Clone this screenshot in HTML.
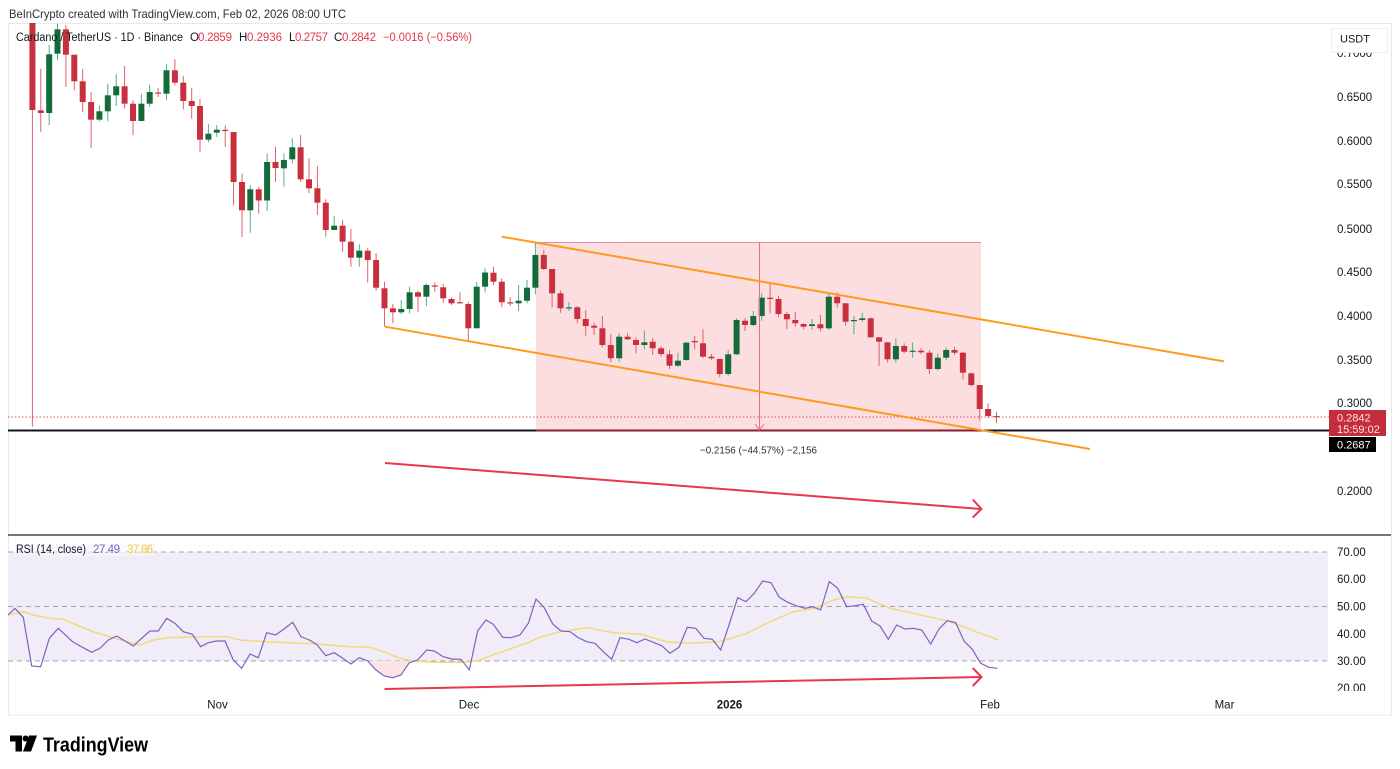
<!DOCTYPE html>
<html><head><meta charset="utf-8"><style>
html,body{margin:0;padding:0;background:#fff;width:1400px;height:769px;overflow:hidden}
svg{display:block;font-family:"Liberation Sans",Arial,sans-serif}
.r{fill:#C9303F}.g{fill:#146B3A}
.rw{stroke:#E0606C;stroke-width:1}.gw{stroke:#4FAF8C;stroke-width:1}
.ax{font-size:11.5px;fill:#131722}
</style></head><body>
<svg width="1400" height="769" viewBox="0 0 1400 769" xmlns="http://www.w3.org/2000/svg">
<defs><clipPath id="mp"><rect x="8" y="23" width="1322" height="512"/></clipPath></defs>
<rect width="1400" height="769" fill="#fff"/>
<text x="9" y="18" font-size="12" fill="#2a2e39" textLength="337" lengthAdjust="spacingAndGlyphs">BeInCrypto created with TradingView.com, Feb 02, 2026 08:00 UTC</text>
<rect x="8.5" y="23.5" width="1383" height="691.5" fill="none" stroke="#E6E8EE" stroke-width="1"/>
<g clip-path="url(#mp)">
<rect x="536" y="242.5" width="445" height="188" fill="#FCDDE0"/>
<line x1="536" y1="242.5" x2="981" y2="242.5" stroke="#F08A96" stroke-width="1"/>
<line x1="32.4" y1="0" x2="32.4" y2="426.7" class="rw"/><rect x="29.4" y="0" width="6" height="110" class="r"/>
<line x1="40.8" y1="68.7" x2="40.8" y2="132" class="rw"/><rect x="37.8" y="110.3" width="6" height="2.7" class="r"/>
<line x1="49.2" y1="45" x2="49.2" y2="125" class="gw"/><rect x="46.2" y="54.3" width="6" height="58.7" class="g"/>
<line x1="57.5" y1="23.7" x2="57.5" y2="60.3" class="gw"/><rect x="54.5" y="29.3" width="6" height="24.4" class="g"/>
<line x1="65.9" y1="25.3" x2="65.9" y2="87" class="rw"/><rect x="62.9" y="29.3" width="6" height="25.4" class="r"/>
<line x1="74.3" y1="54.7" x2="74.3" y2="90.3" class="rw"/><rect x="71.3" y="54.7" width="6" height="26.6" class="r"/>
<line x1="82.7" y1="68.7" x2="82.7" y2="112" class="rw"/><rect x="79.7" y="81.3" width="6" height="20.7" class="r"/>
<line x1="91.1" y1="92" x2="91.1" y2="148" class="rw"/><rect x="88.1" y="102" width="6" height="17.7" class="r"/>
<line x1="99.4" y1="105.3" x2="99.4" y2="121.3" class="gw"/><rect x="96.4" y="111.3" width="6" height="8.4" class="g"/>
<line x1="107.8" y1="83.7" x2="107.8" y2="121.3" class="gw"/><rect x="104.8" y="95.3" width="6" height="16" class="g"/>
<line x1="116.2" y1="74.3" x2="116.2" y2="106" class="gw"/><rect x="113.2" y="86.3" width="6" height="9" class="g"/>
<line x1="124.6" y1="66" x2="124.6" y2="108.7" class="rw"/><rect x="121.6" y="86.3" width="6" height="17.4" class="r"/>
<line x1="133" y1="100.3" x2="133" y2="135.3" class="rw"/><rect x="130" y="103.7" width="6" height="17.3" class="r"/>
<line x1="141.4" y1="94" x2="141.4" y2="121" class="gw"/><rect x="138.4" y="103.7" width="6" height="17.3" class="g"/>
<line x1="149.7" y1="84.7" x2="149.7" y2="107" class="gw"/><rect x="146.7" y="92" width="6" height="11.7" class="g"/>
<line x1="158.1" y1="88" x2="158.1" y2="97" class="rw"/><rect x="155.1" y="92.5" width="6" height="1.2" class="r"/>
<line x1="166.5" y1="63.7" x2="166.5" y2="100.3" class="gw"/><rect x="163.5" y="70.3" width="6" height="23.4" class="g"/>
<line x1="174.9" y1="59.3" x2="174.9" y2="85.3" class="rw"/><rect x="171.9" y="70.3" width="6" height="12.4" class="r"/>
<line x1="183.3" y1="76" x2="183.3" y2="109.3" class="rw"/><rect x="180.3" y="82.7" width="6" height="18.3" class="r"/>
<line x1="191.7" y1="88" x2="191.7" y2="118.7" class="rw"/><rect x="188.7" y="101" width="6" height="5" class="r"/>
<line x1="200" y1="98.7" x2="200" y2="152" class="rw"/><rect x="197" y="106" width="6" height="33.7" class="r"/>
<line x1="208.4" y1="123.7" x2="208.4" y2="142" class="gw"/><rect x="205.4" y="133.7" width="6" height="6" class="g"/>
<line x1="216.8" y1="125" x2="216.8" y2="137" class="gw"/><rect x="213.8" y="129.7" width="6" height="3" class="g"/>
<line x1="225.2" y1="125.3" x2="225.2" y2="147" class="rw"/><rect x="222.2" y="129.8" width="6" height="1.2" class="r"/>
<line x1="233.6" y1="132" x2="233.6" y2="205.3" class="rw"/><rect x="230.6" y="132" width="6" height="50" class="r"/>
<line x1="242" y1="173.5" x2="242" y2="237" class="rw"/><rect x="239" y="182" width="6" height="28.3" class="r"/>
<line x1="250.3" y1="185.3" x2="250.3" y2="232.7" class="gw"/><rect x="247.3" y="189.3" width="6" height="21" class="g"/>
<line x1="258.7" y1="187" x2="258.7" y2="213.7" class="rw"/><rect x="255.7" y="189.3" width="6" height="11.2" class="r"/>
<line x1="267.1" y1="153.5" x2="267.1" y2="211" class="gw"/><rect x="264.1" y="162" width="6" height="38.5" class="g"/>
<line x1="275.5" y1="146.7" x2="275.5" y2="181.7" class="rw"/><rect x="272.5" y="162" width="6" height="6" class="r"/>
<line x1="283.9" y1="153.3" x2="283.9" y2="186.7" class="gw"/><rect x="280.9" y="160" width="6" height="8.3" class="g"/>
<line x1="292.3" y1="138.3" x2="292.3" y2="163.3" class="gw"/><rect x="289.3" y="147.3" width="6" height="12" class="g"/>
<line x1="300.6" y1="135" x2="300.6" y2="181.7" class="rw"/><rect x="297.6" y="147.3" width="6" height="32" class="r"/>
<line x1="309" y1="158.3" x2="309" y2="193.3" class="rw"/><rect x="306" y="179.3" width="6" height="9" class="r"/>
<line x1="317.4" y1="166" x2="317.4" y2="215" class="rw"/><rect x="314.4" y="188.3" width="6" height="14.4" class="r"/>
<line x1="325.8" y1="199.3" x2="325.8" y2="236.7" class="rw"/><rect x="322.8" y="202.7" width="6" height="27.3" class="r"/>
<line x1="334.2" y1="215.7" x2="334.2" y2="230" class="gw"/><rect x="331.2" y="225.7" width="6" height="4.3" class="g"/>
<line x1="342.6" y1="220" x2="342.6" y2="251.7" class="rw"/><rect x="339.6" y="225.7" width="6" height="16" class="r"/>
<line x1="350.9" y1="229" x2="350.9" y2="266.7" class="rw"/><rect x="347.9" y="241.7" width="6" height="16" class="r"/>
<line x1="359.3" y1="244.3" x2="359.3" y2="266.7" class="gw"/><rect x="356.3" y="250.7" width="6" height="7" class="g"/>
<line x1="367.7" y1="248.3" x2="367.7" y2="282.7" class="rw"/><rect x="364.7" y="250.7" width="6" height="9.3" class="r"/>
<line x1="376.1" y1="253.3" x2="376.1" y2="290.7" class="rw"/><rect x="373.1" y="260" width="6" height="27.7" class="r"/>
<line x1="384.5" y1="281.7" x2="384.5" y2="326.7" class="rw"/><rect x="381.5" y="288.3" width="6" height="20" class="r"/>
<line x1="392.9" y1="304" x2="392.9" y2="323.3" class="rw"/><rect x="389.9" y="308.3" width="6" height="4" class="r"/>
<line x1="401.2" y1="300" x2="401.2" y2="314.3" class="gw"/><rect x="398.2" y="309" width="6" height="3.3" class="g"/>
<line x1="409.6" y1="286.7" x2="409.6" y2="313.3" class="gw"/><rect x="406.6" y="292.3" width="6" height="16.7" class="g"/>
<line x1="418" y1="290.7" x2="418" y2="311.7" class="rw"/><rect x="415" y="292.3" width="6" height="4.4" class="r"/>
<line x1="426.4" y1="283.3" x2="426.4" y2="306" class="gw"/><rect x="423.4" y="285" width="6" height="11.7" class="g"/>
<line x1="434.8" y1="282.3" x2="434.8" y2="291.7" class="rw"/><rect x="431.8" y="285.5" width="6" height="1.2" class="r"/>
<line x1="443.2" y1="284" x2="443.2" y2="302.7" class="rw"/><rect x="440.2" y="287.3" width="6" height="11" class="r"/>
<line x1="451.5" y1="297.3" x2="451.5" y2="305" class="rw"/><rect x="448.5" y="299" width="6" height="4.3" class="r"/>
<line x1="459.9" y1="292.3" x2="459.9" y2="303.3" class="rw"/><rect x="456.9" y="302.2" width="6" height="1.2" class="r"/>
<line x1="468.3" y1="301.7" x2="468.3" y2="340.7" class="rw"/><rect x="465.3" y="304" width="6" height="24.3" class="r"/>
<line x1="476.7" y1="282" x2="476.7" y2="328.3" class="gw"/><rect x="473.7" y="286.7" width="6" height="41.6" class="g"/>
<line x1="485.1" y1="268.3" x2="485.1" y2="292.3" class="gw"/><rect x="482.1" y="272.5" width="6" height="14.2" class="g"/>
<line x1="493.5" y1="266.7" x2="493.5" y2="285" class="rw"/><rect x="490.5" y="272.7" width="6" height="9" class="r"/>
<line x1="501.8" y1="278.3" x2="501.8" y2="307.3" class="rw"/><rect x="498.8" y="281.7" width="6" height="20.6" class="r"/>
<line x1="510.2" y1="297.3" x2="510.2" y2="306" class="rw"/><rect x="507.2" y="302.3" width="6" height="1.2" class="r"/>
<line x1="518.6" y1="285" x2="518.6" y2="311" class="gw"/><rect x="515.6" y="300.7" width="6" height="2.6" class="g"/>
<line x1="527" y1="280" x2="527" y2="303.3" class="gw"/><rect x="524" y="287.7" width="6" height="13" class="g"/>
<line x1="535.4" y1="242.7" x2="535.4" y2="294.3" class="gw"/><rect x="532.4" y="255" width="6" height="32.7" class="g"/>
<line x1="543.8" y1="250" x2="543.8" y2="270" class="rw"/><rect x="540.8" y="255" width="6" height="14" class="r"/>
<line x1="552.1" y1="269" x2="552.1" y2="307.3" class="rw"/><rect x="549.1" y="269" width="6" height="24.3" class="r"/>
<line x1="560.5" y1="290.7" x2="560.5" y2="312.7" class="rw"/><rect x="557.5" y="293.3" width="6" height="15" class="r"/>
<line x1="568.9" y1="302.3" x2="568.9" y2="311" class="gw"/><rect x="565.9" y="307.3" width="6" height="1.2" class="g"/>
<line x1="577.3" y1="306" x2="577.3" y2="323.3" class="rw"/><rect x="574.3" y="307.3" width="6" height="11.7" class="r"/>
<line x1="585.7" y1="310" x2="585.7" y2="335.7" class="rw"/><rect x="582.7" y="319" width="6" height="7" class="r"/>
<line x1="594.1" y1="322.7" x2="594.1" y2="335" class="rw"/><rect x="591.1" y="325.7" width="6" height="2" class="r"/>
<line x1="602.4" y1="316" x2="602.4" y2="347.3" class="rw"/><rect x="599.4" y="328.3" width="6" height="16.7" class="r"/>
<line x1="610.8" y1="334" x2="610.8" y2="362.3" class="rw"/><rect x="607.8" y="345" width="6" height="13.3" class="r"/>
<line x1="619.2" y1="333.3" x2="619.2" y2="361.7" class="gw"/><rect x="616.2" y="336.7" width="6" height="21.6" class="g"/>
<line x1="627.6" y1="333.3" x2="627.6" y2="340" class="rw"/><rect x="624.6" y="336.7" width="6" height="2.6" class="r"/>
<line x1="636" y1="337.3" x2="636" y2="353.3" class="rw"/><rect x="633" y="340" width="6" height="5" class="r"/>
<line x1="644.4" y1="330.7" x2="644.4" y2="349.3" class="gw"/><rect x="641.4" y="342.3" width="6" height="2.7" class="g"/>
<line x1="652.7" y1="337.7" x2="652.7" y2="355" class="rw"/><rect x="649.7" y="341.7" width="6" height="6.6" class="r"/>
<line x1="661.1" y1="346" x2="661.1" y2="356.7" class="rw"/><rect x="658.1" y="348.3" width="6" height="5.7" class="r"/>
<line x1="669.5" y1="350" x2="669.5" y2="369" class="rw"/><rect x="666.5" y="354.3" width="6" height="11.4" class="r"/>
<line x1="677.9" y1="352.7" x2="677.9" y2="366.7" class="gw"/><rect x="674.9" y="360.7" width="6" height="5" class="g"/>
<line x1="686.3" y1="341.7" x2="686.3" y2="360.7" class="gw"/><rect x="683.3" y="342.7" width="6" height="17.3" class="g"/>
<line x1="694.7" y1="336" x2="694.7" y2="349.3" class="rw"/><rect x="691.7" y="341" width="6" height="1.3" class="r"/>
<line x1="703" y1="329.3" x2="703" y2="358.3" class="rw"/><rect x="700" y="343.3" width="6" height="13.4" class="r"/>
<line x1="711.4" y1="354" x2="711.4" y2="360" class="rw"/><rect x="708.4" y="356.7" width="6" height="1.6" class="r"/>
<line x1="719.8" y1="358.3" x2="719.8" y2="377.3" class="rw"/><rect x="716.8" y="359" width="6" height="15" class="r"/>
<line x1="728.2" y1="350" x2="728.2" y2="375.7" class="gw"/><rect x="725.2" y="354.3" width="6" height="19.7" class="g"/>
<line x1="736.6" y1="318.3" x2="736.6" y2="355" class="gw"/><rect x="733.6" y="320" width="6" height="34.3" class="g"/>
<line x1="745" y1="318.3" x2="745" y2="331" class="rw"/><rect x="742" y="320.7" width="6" height="4.3" class="r"/>
<line x1="753.3" y1="311" x2="753.3" y2="326" class="gw"/><rect x="750.3" y="316" width="6" height="9" class="g"/>
<line x1="761.7" y1="293.3" x2="761.7" y2="320.7" class="gw"/><rect x="758.7" y="297.7" width="6" height="18.3" class="g"/>
<line x1="770.1" y1="283.3" x2="770.1" y2="313.3" class="rw"/><rect x="767.1" y="297.7" width="6" height="1.3" class="r"/>
<line x1="778.5" y1="296" x2="778.5" y2="317.3" class="rw"/><rect x="775.5" y="299" width="6" height="15" class="r"/>
<line x1="786.9" y1="311.7" x2="786.9" y2="329" class="rw"/><rect x="783.9" y="314" width="6" height="5.3" class="r"/>
<line x1="795.3" y1="311.7" x2="795.3" y2="326.7" class="rw"/><rect x="792.3" y="320" width="6" height="3.3" class="r"/>
<line x1="803.6" y1="323.3" x2="803.6" y2="329.3" class="rw"/><rect x="800.6" y="324" width="6" height="2.7" class="r"/>
<line x1="812" y1="319" x2="812" y2="330" class="gw"/><rect x="809" y="324.3" width="6" height="1.7" class="g"/>
<line x1="820.4" y1="315" x2="820.4" y2="331.7" class="rw"/><rect x="817.4" y="324.3" width="6" height="4" class="r"/>
<line x1="828.8" y1="292.7" x2="828.8" y2="330" class="gw"/><rect x="825.8" y="296.7" width="6" height="31.6" class="g"/>
<line x1="837.2" y1="292.3" x2="837.2" y2="307.3" class="rw"/><rect x="834.2" y="296.7" width="6" height="6.6" class="r"/>
<line x1="845.6" y1="303.3" x2="845.6" y2="325.7" class="rw"/><rect x="842.6" y="303.3" width="6" height="18.4" class="r"/>
<line x1="853.9" y1="316" x2="853.9" y2="334.3" class="gw"/><rect x="850.9" y="320" width="6" height="1.2" class="g"/>
<line x1="862.3" y1="312.7" x2="862.3" y2="321.7" class="gw"/><rect x="859.3" y="318.3" width="6" height="1.7" class="g"/>
<line x1="870.7" y1="317.3" x2="870.7" y2="337.3" class="rw"/><rect x="867.7" y="318.3" width="6" height="19" class="r"/>
<line x1="879.1" y1="337.3" x2="879.1" y2="366" class="rw"/><rect x="876.1" y="337.3" width="6" height="4.4" class="r"/>
<line x1="887.5" y1="342.3" x2="887.5" y2="362.3" class="rw"/><rect x="884.5" y="342.3" width="6" height="17" class="r"/>
<line x1="895.9" y1="338.3" x2="895.9" y2="362.7" class="gw"/><rect x="892.9" y="346" width="6" height="13.3" class="g"/>
<line x1="904.2" y1="343.3" x2="904.2" y2="353.3" class="rw"/><rect x="901.2" y="346" width="6" height="5.7" class="r"/>
<line x1="912.6" y1="342.7" x2="912.6" y2="357.7" class="gw"/><rect x="909.6" y="350.7" width="6" height="1.2" class="g"/>
<line x1="921" y1="348.3" x2="921" y2="354" class="rw"/><rect x="918" y="350.7" width="6" height="1.6" class="r"/>
<line x1="929.4" y1="350" x2="929.4" y2="374" class="rw"/><rect x="926.4" y="352.7" width="6" height="16.3" class="r"/>
<line x1="937.8" y1="353.3" x2="937.8" y2="370.7" class="gw"/><rect x="934.8" y="357.7" width="6" height="11.3" class="g"/>
<line x1="946.2" y1="347.3" x2="946.2" y2="360" class="gw"/><rect x="943.2" y="350" width="6" height="7.7" class="g"/>
<line x1="954.5" y1="346.7" x2="954.5" y2="355" class="rw"/><rect x="951.5" y="350" width="6" height="2.7" class="r"/>
<line x1="962.9" y1="351.7" x2="962.9" y2="379.3" class="rw"/><rect x="959.9" y="352.7" width="6" height="20" class="r"/>
<line x1="971.3" y1="372.7" x2="971.3" y2="386.7" class="rw"/><rect x="968.3" y="373.3" width="6" height="11.7" class="r"/>
<line x1="979.7" y1="385" x2="979.7" y2="420.7" class="rw"/><rect x="976.7" y="385" width="6" height="24" class="r"/>
<line x1="988.1" y1="403.3" x2="988.1" y2="418.3" class="rw"/><rect x="985.1" y="409" width="6" height="7" class="r"/>
<line x1="996.5" y1="411.7" x2="996.5" y2="423.3" class="rw"/><rect x="993.5" y="416" width="6" height="1.2" class="r"/>
<line x1="8" y1="417" x2="1330" y2="417" stroke="#E0505F" stroke-width="1" stroke-dasharray="1.5,2"/>
<line x1="8" y1="430.5" x2="1330" y2="430.5" stroke="#131722" stroke-width="2"/>
<line x1="536" y1="430.5" x2="981" y2="430.5" stroke="#8E1E2C" stroke-width="2"/>
<line x1="759.5" y1="242.5" x2="759.5" y2="430" stroke="#EE6A7C" stroke-width="1"/>
<polyline points="755,424 759.5,430 764,424" fill="none" stroke="#EE6A7C" stroke-width="1"/>
<line x1="501.7" y1="236.7" x2="1224" y2="361.4" stroke="#FF9A1F" stroke-width="2"/>
<line x1="385" y1="326.7" x2="1090" y2="449" stroke="#FF9A1F" stroke-width="2"/>
<line x1="385" y1="463" x2="981" y2="509" stroke="#E8384A" stroke-width="2"/>
<polyline points="972.7,499.5 981.5,509 972.7,517.5" fill="none" stroke="#E8384A" stroke-width="2"/>
</g>
<text x="700" y="453.5" font-size="10.5" fill="#2a2e39" textLength="117" lengthAdjust="spacingAndGlyphs">−0.2156 (−44.57%) −2,156</text>
<g font-size="11.5">
<text x="16" y="41" fill="#131722" textLength="167" lengthAdjust="spacingAndGlyphs">Cardano / TetherUS · 1D · Binance</text>
<text x="190" y="41" fill="#131722">O</text><text x="198" y="41" fill="#E0394A" textLength="34">0.2859</text>
<text x="239" y="41" fill="#131722">H</text><text x="247" y="41" fill="#E0394A" textLength="35">0.2936</text>
<text x="289" y="41" fill="#131722">L</text><text x="295" y="41" fill="#E0394A" textLength="33">0.2757</text>
<text x="334" y="41" fill="#131722">C</text><text x="342" y="41" fill="#E0394A" textLength="34">0.2842</text>
<text x="383" y="41" fill="#E0394A" textLength="89" lengthAdjust="spacingAndGlyphs">−0.0016 (−0.56%)</text>
</g>
<g class="ax">
<text x="1337" y="57">0.7000</text>
<text x="1337" y="101">0.6500</text>
<text x="1337" y="145">0.6000</text>
<text x="1337" y="188">0.5500</text>
<text x="1337" y="233">0.5000</text>
<text x="1337" y="276">0.4500</text>
<text x="1337" y="320">0.4000</text>
<text x="1337" y="364">0.3500</text>
<text x="1337" y="407">0.3000</text>
<text x="1337" y="495">0.2000</text>
</g>
<rect x="1331.5" y="28.5" width="56" height="24" fill="#fff" stroke="#EDEEF2"/>
<text x="1340" y="42.5" font-size="11" fill="#131722">USDT</text>
<rect x="1329" y="410" width="57" height="26" fill="#C42D3C"/>
<text x="1337" y="421.5" font-size="11" fill="#FFE2E5">0.2842</text>
<text x="1337" y="433" font-size="11" fill="#FFE2E5">15:59:02</text>
<rect x="1329" y="437" width="47" height="15" fill="#000"/>
<text x="1337" y="448.5" font-size="11" fill="#fff">0.2687</text>
<line x1="8" y1="535" x2="1391" y2="535" stroke="#4a4a4a" stroke-width="1.5"/>
<rect x="8" y="552" width="1320" height="109" fill="#F0EDF9"/>
<g stroke="#A3A3AE" stroke-width="1" stroke-dasharray="5,4">
<line x1="8" y1="552" x2="1328" y2="552"/>
<line x1="8" y1="606.5" x2="1328" y2="606.5"/>
<line x1="8" y1="661" x2="1328" y2="661"/>
</g>
<polygon points="370,661 376,670 384.3,676 392.7,677.7 401,675 409.3,662.7 410,661" fill="#FCE3E6"/>
<polyline fill="none" stroke="#F3D97A" stroke-width="1.5" points="8,615 23.3,611.7 33.3,615 50,618.3 63.3,619.3 76.7,625 93.3,631.7 110,636.7 126.7,641.7 140,645 153.3,640 166.7,637.7 200,636.7 226.7,636.7 240,640 266.7,641.7 300,643.3 320,644.3 350,646.7 370,647.3 383.3,651.7 400,658.3 413.3,661 433.3,662.3 466.7,662.3 480,660 500,652.3 526.7,643.3 540,637.3 560,631.7 586.7,627.7 613.3,632.7 640,634 666.7,641.7 686.7,643.3 720,641.7 746.7,633.3 766.7,623.3 793.3,611.7 816.7,607.7 833.3,600 846.7,596.7 866.7,598.3 890,608.3 913.3,613.3 946.7,620.7 963.3,626.7 980,633.3 998.3,640"/>
<polyline fill="none" stroke="#7E62C0" stroke-width="1.2" points="8,615 15,608.3 23.3,617.3 31.7,666 40.7,666.7 49.3,638.3 58.3,628.3 73.3,642.3 91.7,652.3 100,648.3 108.3,640 116.7,636 133.3,646 141.7,638.3 150,631 158.3,631 166.7,618.3 175,623.3 183.3,631.7 192.3,634.3 200.7,646.7 208.3,642.7 216.7,641 225,641 233.3,660 241.7,668.3 250,654 258.3,657.7 266.7,632.7 275.7,635 284,629 292.7,622.3 301,636.7 309.3,640 316.7,644.3 325.7,655.7 334.3,652.7 342.7,658.3 351,664 359.3,657.7 367.7,661 376,670 384.3,676 392.7,677.7 401,675 409.3,662.7 417.7,660 426.7,650 434.3,651 443.3,656.7 451.7,659 461,659.3 469.3,670 477.7,630.7 486,620 493.3,624.3 502.7,637.3 511,637.7 520,635 528.3,623.3 536,599 544.3,607.7 552.7,624 561,631 570,631.7 578.3,637.7 586.7,641.7 595,643.3 603.3,651.7 611.7,659.3 620,637.7 629,639.3 636.7,642.7 645,639 653.3,642.3 661.7,645.7 670,653.3 679,647.3 687.3,627.3 695.7,628.3 704,638.3 712.3,639.3 720.7,650 729,625 737.7,597.7 746,601.7 754.3,593.3 762.7,581 771,582.7 779.3,597.3 787.7,602.3 796,605.7 805,608.3 812.7,606.7 820.7,610 829.3,581.7 837.7,588.3 846.7,606.7 855,605.7 863.3,604.3 871.7,621 880,626 888.3,639.3 896.7,625 905,629 913.3,628.3 921.7,630 930.7,644 939,629 947.3,620.7 955.7,622.7 964,641 972.3,649.3 980.7,663.3 989,667.3 997.3,668.3"/>
<line x1="384.5" y1="689" x2="981" y2="677" stroke="#E8384A" stroke-width="2"/>
<polyline points="972.7,668 981.5,677 972.7,686" fill="none" stroke="#E8384A" stroke-width="2"/>
<rect x="15" y="543" width="140" height="13" fill="#F7F5FC" opacity="0.6"/>
<text x="16" y="553" font-size="11.5" fill="#131722" textLength="70" lengthAdjust="spacingAndGlyphs">RSI (14, close)</text>
<text x="93" y="553" font-size="11.5" fill="#7E62C0" textLength="27">27.49</text>
<text x="127" y="553" font-size="11.5" fill="#F2CB3A" textLength="26">37.86</text>
<g class="ax">
<text x="1337" y="556">70.00</text>
<text x="1337" y="583">60.00</text>
<text x="1337" y="610.5">50.00</text>
<text x="1337" y="638">40.00</text>
<text x="1337" y="665">30.00</text>
<text x="1337" y="692">20.00</text>
</g>
<rect x="1330" y="691" width="60" height="10" fill="#fff"/>
<g class="ax" text-anchor="middle">
<text x="217.5" y="708.5">Nov</text>
<text x="469" y="708.5">Dec</text>
<text x="729.5" y="708.5" font-weight="bold">2026</text>
<text x="990" y="708.5">Feb</text>
<text x="1224.5" y="708.5">Mar</text>
</g>
<g fill="#000">
<rect x="10" y="735.5" width="12" height="6"/>
<rect x="15.5" y="735.5" width="6.5" height="16"/>
<circle cx="25.5" cy="738.5" r="3"/>
<polygon points="29,735.5 37,735.5 31,751.5 23,751.5"/>
</g>
<text x="43" y="751.5" font-size="20" font-weight="bold" fill="#000" textLength="105" lengthAdjust="spacingAndGlyphs">TradingView</text>
</svg>
</body></html>
